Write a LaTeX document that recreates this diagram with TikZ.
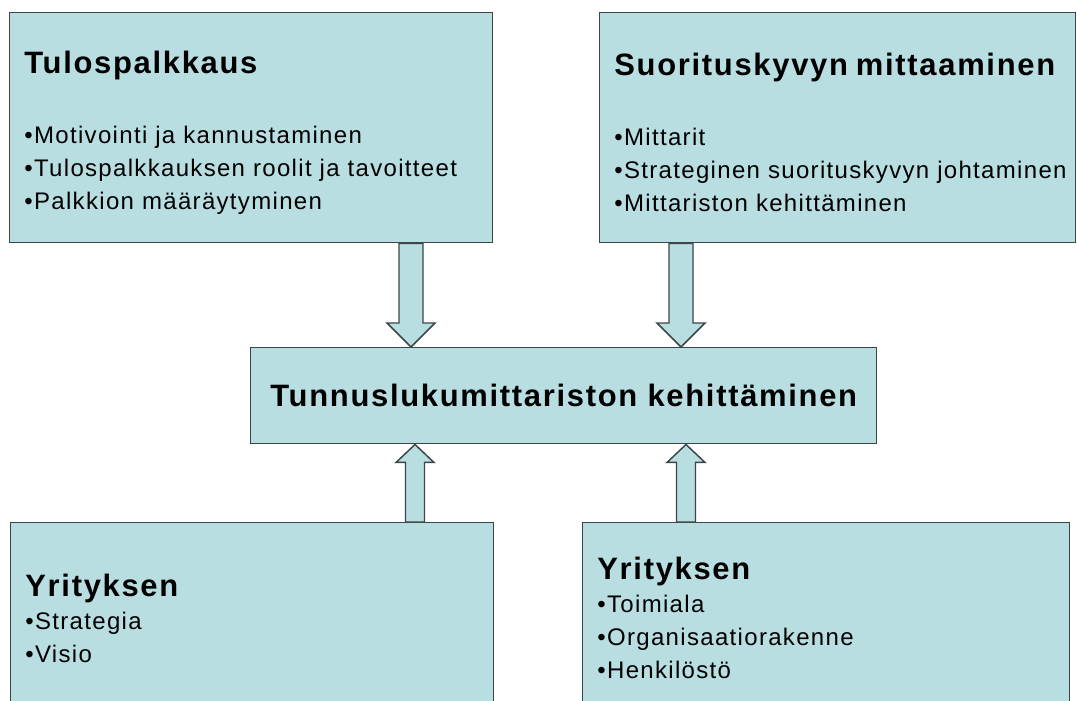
\documentclass[tikz,border=0pt]{standalone}
\usepackage{fontspec}
\setmainfont{Liberation Sans}[LetterSpace=5.5]
\usetikzlibrary{calc}

\definecolor{boxfill}{HTML}{B9DEE1}
\definecolor{boxline}{HTML}{3A4647}

\newcommand\otsikko[1]{{\bfseries\fontsize{23.2}{24.75}\selectfont #1}}
\newcommand\kohta[1]{\mbox{\textbullet#1}}
% block arrow: start, tip, shaft half width, head half width, head length
\newcommand\nuoli[5]{%
  \draw[nuolirunko] ($(#1)+(-#3,0)$) -- ($(#2)+(-#3,#5)$) -- ($(#2)+(-#4,#5)$) -- (#2)
    -- ($(#2)+(#4,#5)$) -- ($(#2)+(#3,#5)$) -- ($(#1)+(#3,0)$) -- cycle;}

\tikzset{
  laatikko/.style={draw=boxline, fill=boxfill, line width=1.1pt, anchor=north west,
    inner xsep=11pt, align=left, font=\fontsize{18}{24.75}\selectfont},
  nuolirunko/.style={draw=boxline, fill=boxfill, line width=1.1pt, line join=miter}
}

\begin{document}
\begin{tikzpicture}[x=0.75pt, y=-0.75pt]
\clip (0,0) rectangle (1077,700);
\useasboundingbox (0,0) rectangle (1077,700);

% ===== Boxes =====
\node[laatikko, minimum width=362.25pt, minimum height=172.5pt, text width=340.25pt] (tulos) at (9,12) {%
\rule{0pt}{24pt}\otsikko{Tulospalkkaus}\\[28pt]
\kohta{Motivointi ja kannustaminen}\\
\kohta{Tulospalkkauksen roolit ja tavoitteet}\\
\kohta{Palkkion määräytyminen}};

\node[laatikko, minimum width=357pt, minimum height=172.5pt, text width=335pt] (suor) at (599,12) {%
\rule{0pt}{24pt}\otsikko{Suorituskyvyn mittaaminen}\\[28pt]
\kohta{Mittarit}\\
\kohta{Strateginen suorituskyvyn johtaminen}\\
\kohta{Mittariston kehittäminen}};

\node[laatikko, align=center, minimum width=469.5pt, minimum height=72pt] (tunnus) at (250,347) {%
\otsikko{Tunnuslukumittariston kehittäminen}};

\node[laatikko, minimum width=362.25pt, minimum height=143.25pt, text width=340.25pt] (yrit1) at (10,522) {%
\otsikko{Yrityksen}\\
\kohta{Strategia}\\
\kohta{Visio}};

\node[laatikko, minimum width=365.25pt, minimum height=143.25pt, text width=343.25pt] (yrit2) at (582,522) {%
\otsikko{Yrityksen}\\
\kohta{Toimiala}\\
\kohta{Organisaatiorakenne}\\
\kohta{Henkilöstö}};

% ===== Arrows =====
\coordinate (dl) at (411,0);
\coordinate (dr) at (681,0);
\coordinate (ul) at (415,0);
\coordinate (ur) at (686,0);

\nuoli{dl |- tulos.south}{dl |- tunnus.north}{12}{24}{-24}
\nuoli{dr |- suor.south}{dr |- tunnus.north}{12}{24}{-24}
\nuoli{ul |- yrit1.north}{ul |- tunnus.south}{9.5}{19}{18}
\nuoli{ur |- yrit2.north}{ur |- tunnus.south}{9.5}{19}{18}

\end{tikzpicture}
\end{document}
